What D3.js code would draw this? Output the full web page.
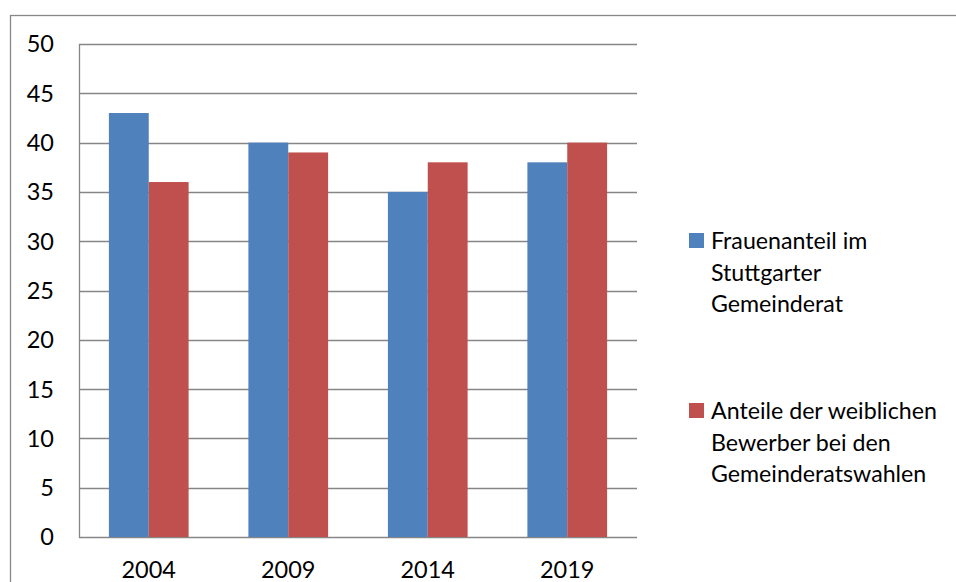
<!DOCTYPE html>
<html>
<head>
<meta charset="utf-8">
<script src="https://cdn.jsdelivr.net/npm/d3@7"></script>
<style>
  body { margin: 0; background: #fff; }
  text { font-family: Lato, "Open Sans", sans-serif; fill: #000; }
</style>
</head>
<body>
<svg></svg>
<script>
// chart data
const years = ["2004", "2009", "2014", "2019"]
const frauenanteil = [43, 40, 35, 38]
const bewerberinnen = [36, 39, 38, 40]
const seriesNames = [
    ["Frauenanteil im", "Stuttgarter", "Gemeinderat"],
    ["Anteile der weiblichen", "Bewerber bei den", "Gemeinderatswahlen"]
]
const seriesColors = ["#4F81BD", "#C0504D"]
const yTicks = [0, 5, 10, 15, 20, 25, 30, 35, 40, 45, 50]

const width = 956
const height = 582

// plot area inside the svg
const plot = { left: 79, top: 44, right: 637, bottom: 537 }

const svg = d3.select('svg')
    .attr('width', width)
    .attr('height', height)

// outer chart frame (runs off the right/bottom edge)
svg.append('rect')
    .attr('x', 10.5)
    .attr('y', 15.5)
    .attr('width', 1000)
    .attr('height', 1000)
    .attr('fill', 'none')
    .attr('stroke', '#888')
    .attr('stroke-width', 1.3)

const xScale = d3.scaleBand()
    .domain(years)
    .range([plot.left, plot.right])

// two bars per group, gap of 150% of a bar width split on both sides
const barW = xScale.bandwidth() / 3.5
const xSub = d3.scaleBand()
    .domain([0, 1])
    .range([xScale.bandwidth() / 2 - barW, xScale.bandwidth() / 2 + barW])

const yScale = d3.scaleLinear()
    .domain([0, 50])
    .range([plot.bottom, plot.top])

// gridlines
svg.append('g')
    .selectAll('line')
    .data(yTicks)
    .join('line')
    .attr('x1', plot.left)
    .attr('x2', plot.right)
    .attr('y1', d => Math.round(yScale(d)) + 0.5)
    .attr('y2', d => Math.round(yScale(d)) + 0.5)
    .attr('stroke', '#868686')
    .attr('stroke-width', 1.3)

// y axis line
svg.append('line')
    .attr('x1', plot.left + 0.5)
    .attr('x2', plot.left + 0.5)
    .attr('y1', plot.top)
    .attr('y2', Math.round(yScale(0)) + 1)
    .attr('stroke', '#868686')
    .attr('stroke-width', 1.3)

// y tick labels
svg.append('g')
    .selectAll('text')
    .data(yTicks)
    .join('text')
    .attr('x', 54)
    .attr('y', d => yScale(d))
    .attr('dy', '0.36em')
    .attr('text-anchor', 'end')
    .attr('font-size', 23.5)
    .text(d => d)

// bars
const series = [frauenanteil, bewerberinnen]
series.forEach((vals, si) => {
    svg.append('g')
        .selectAll('rect')
        .data(vals)
        .join('rect')
        .attr('x', (d, i) => xScale(years[i]) + xSub(si))
        .attr('y', d => yScale(d))
        .attr('width', xSub.bandwidth())
        .attr('height', d => yScale(0) - yScale(d))
        .attr('fill', seriesColors[si])
})

// x labels
svg.append('g')
    .selectAll('text')
    .data(years)
    .join('text')
    .attr('x', d => xScale(d) + xScale.bandwidth() / 2)
    .attr('y', 578)
    .attr('text-anchor', 'middle')
    .attr('font-size', 23.5)
    .text(d => d)

// legend
const legendTop = [233, 403]
seriesNames.forEach((lines, si) => {
    const lg = svg.append('g')
    lg.append('rect')
        .attr('x', 689)
        .attr('y', legendTop[si])
        .attr('width', 15)
        .attr('height', 15)
        .attr('fill', seriesColors[si])
    lg.selectAll('text')
        .data(lines)
        .join('text')
        .attr('x', 711)
        .attr('y', (d, i) => legendTop[si] + 16 + i * 31.5)
        .attr('font-size', 23.2)
        .text(d => d)
})
</script>
</body>
</html>
